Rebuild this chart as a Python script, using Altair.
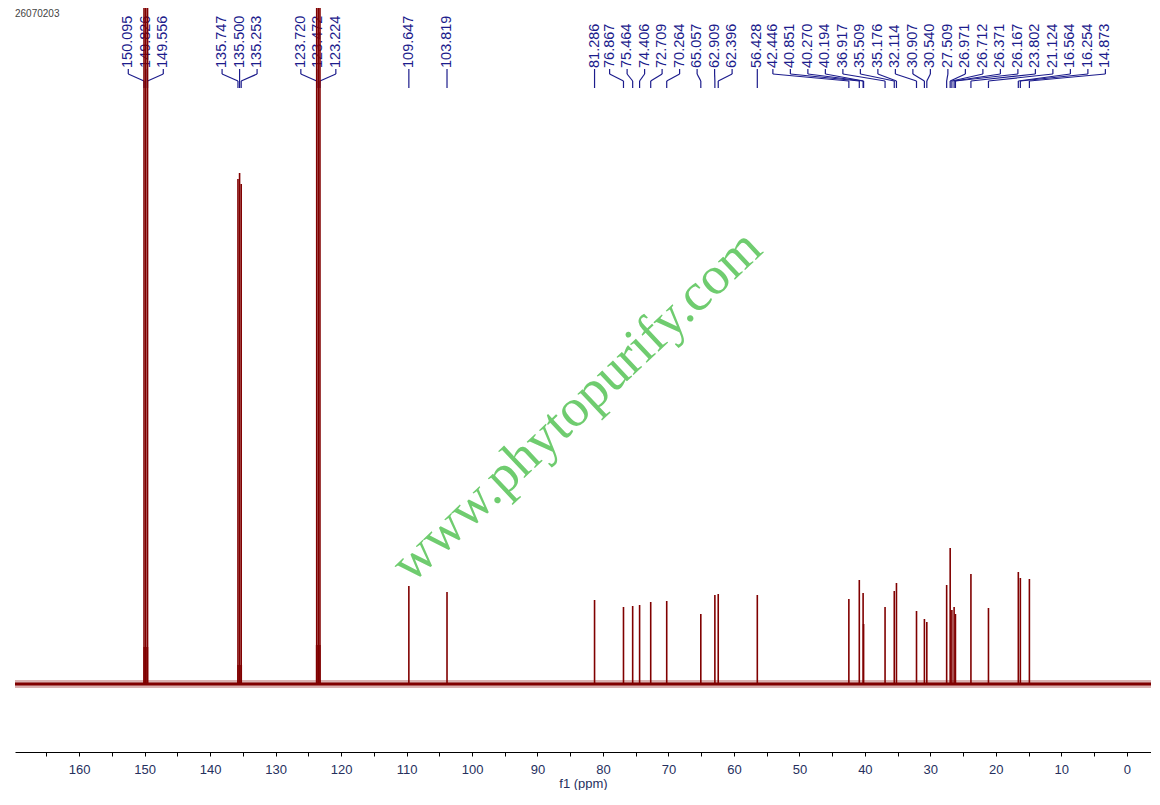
import altair as alt
import pandas as pd

# PEAK TABLE (13C, ppm) ---------------------------------------
peak_ppm = [150.095, 149.826, 149.556, 135.747, 135.500, 135.253,
            123.720, 123.472, 123.224, 109.647, 103.819,
            81.286, 76.867, 75.464, 74.406, 72.709, 70.264, 65.057, 62.909, 62.396,
            56.428,
            42.446, 40.851, 40.270, 40.194, 36.917, 35.509, 35.176, 32.114, 30.907, 30.540,
            27.509, 26.971, 26.712, 26.371, 26.167, 23.802, 21.124, 16.564, 16.254, 14.873]
peak_height = [900, 1000, 900, 505, 511, 500,
               900, 1000, 900, 98, 92,
               84, 77, 78, 79, 82, 83, 70, 89, 90,
               89,
               85, 104, 91, 60, 77, 93, 101, 73, 65, 62,
               99, 136, 74, 77, 70, 110, 76, 112, 106, 105]

# broad solvent feet (pyridine-d5)
solvent_ppm = [149.826, 135.500, 123.472]
solvent_foot = [37, 19, 39]

sample_id = '26070203'
watermark = 'www.phytopurify.com'

X_MAX, X_MIN = 169.8, -3.7
W, H = 1136, 744
PEAK_RED = '#800000'
LABEL_BLUE = '#1c1c8c'


# LABEL SPREADING ---------------------------------------------
def to_px(p):
    return (X_MAX - p) / (X_MAX - X_MIN) * W


def to_ppm(x):
    return X_MAX - x / W * (X_MAX - X_MIN)


def slots(cluster, gap):
    mid = (cluster[0] + cluster[-1]) / 2
    n = len(cluster)
    return [mid + (i - (n - 1) / 2) * gap for i in range(n)]


def spread_labels(ppms, gap=17.5, min_gap=12):
    clusters = [[to_px(p)] for p in ppms]
    changed = True
    while changed:
        changed = False
        merged = [clusters[0]]
        for c in clusters[1:]:
            if slots(c, gap)[0] - slots(merged[-1], gap)[-1] < min_gap:
                merged[-1] = merged[-1] + c
                changed = True
            else:
                merged.append(c)
        clusters = merged
    out = []
    for c in clusters:
        out += slots(c, gap)
    return [to_ppm(x) for x in out]


df_peaks = pd.DataFrame({'ppm': peak_ppm, 'height': peak_height})
df_peaks['label_ppm'] = spread_labels(peak_ppm)
df_peaks['label'] = [f'{p:.3f}' for p in peak_ppm]
df_peaks['zero'] = 0

df_solvent = pd.DataFrame({'ppm': solvent_ppm, 'foot': solvent_foot})
df_solvent['zero'] = 0

df_base = pd.DataFrame({'x0': [X_MIN], 'x1': [X_MAX], 'zero': [0]})

# SCALES ------------------------------------------------------
x_scale = alt.Scale(domain=[X_MIN, X_MAX], reverse=True, nice=False, zero=False)
y_scale = alt.Scale(domain=[-68, 676], nice=False, zero=False)

x_axis = alt.Axis(
    values=list(range(0, 170, 5)),
    labelExpr="datum.value % 10 === 0 ? datum.label : ''",
    format='d', title='f1 (ppm)', grid=False
)


def X(field):
    return alt.X(field, scale=x_scale, axis=x_axis)


def Y(field):
    return alt.Y(field, scale=y_scale, axis=None)


# PLOTTING ----------------------------------------------------
base = alt.Chart(df_peaks)

peaks = base.mark_rule(color=PEAK_RED, strokeWidth=1.6, clip=True).encode(
    x=X('ppm:Q'), y=Y('height:Q'), y2='zero:Q'
)

feet = alt.Chart(df_solvent).mark_rule(color=PEAK_RED, strokeWidth=5, opacity=0.8).encode(
    x=X('ppm:Q'), y=Y('foot:Q'), y2='zero:Q'
)

noise_band = alt.Chart(df_base).mark_rule(
    color=PEAK_RED, strokeWidth=8, opacity=0.3, clip=True
).encode(x=X('x0:Q'), x2='x1:Q', y=Y('zero:Q'))
noise_core = alt.Chart(df_base).mark_rule(
    color=PEAK_RED, strokeWidth=3, clip=True
).encode(x=X('x0:Q'), x2='x1:Q', y=Y('zero:Q'))

# peak labels and their leader lines (pixel rows at the top)
labels = base.mark_text(
    angle=270, align='left', baseline='middle',
    font='Liberation Sans', fontSize=14.5, color=LABEL_BLUE
).encode(x=X('label_ppm:Q'), y=alt.value(60), text='label:N')

leg_top = base.mark_rule(color=LABEL_BLUE, strokeWidth=1.2).encode(
    x=X('label_ppm:Q'), y=alt.value(61), y2=alt.value(66)
)
leg_slant = base.mark_rule(color=LABEL_BLUE, strokeWidth=1.2).encode(
    x=X('label_ppm:Q'), x2='ppm:Q', y=alt.value(66), y2=alt.value(73)
)
leg_bottom = base.mark_rule(color=LABEL_BLUE, strokeWidth=1.2).encode(
    x=X('ppm:Q'), y=alt.value(73), y2=alt.value(80)
)

wm = alt.Chart(pd.DataFrame({'t': [watermark]})).mark_text(
    font='Liberation Serif', fontSize=54, angle=316.7, color='#6fcc6f',
    align='center', baseline='alphabetic'
).encode(x=alt.value(573), y=alt.value(410), text='t:N')

sid = alt.Chart(pd.DataFrame({'t': [sample_id]})).mark_text(
    font='Liberation Sans', fontSize=10, color='#444444', align='left', baseline='middle'
).encode(x=alt.value(0), y=alt.value(6), text='t:N')

chart = alt.layer(
    wm, sid, labels, leg_top, leg_slant, leg_bottom,
    noise_band, noise_core, feet, peaks
).properties(
    width=W, height=H,
    padding={'left': 7, 'top': 0, 'right': 0, 'bottom': 0}
).configure_view(
    stroke=None
).configure_axis(
    domainColor='#000000', tickColor='#000000', tickSize=4,
    labelColor='#26305e', titleColor='#26305e',
    labelFont='Liberation Sans', titleFont='Liberation Sans',
    labelFontSize=13, titleFontSize=13, titleFontWeight='normal',
    labelPadding=7, titlePadding=1
)

chart.save('out.html', embed_options={'renderer': 'svg', 'actions': False})
